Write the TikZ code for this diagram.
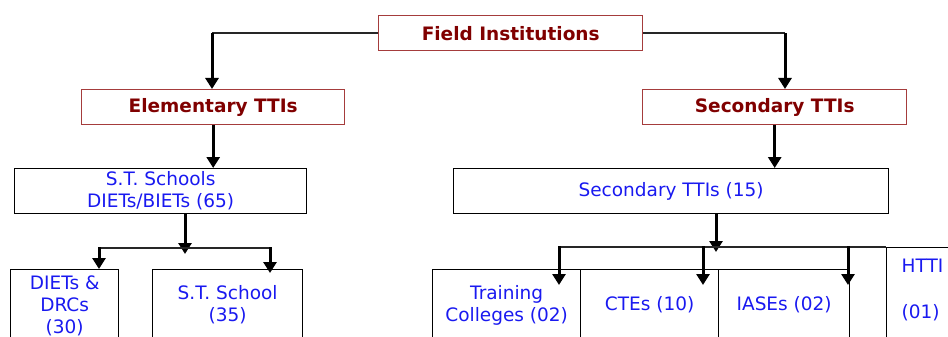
\documentclass[tikz,border=0pt]{standalone}
\usepackage{fontspec}
\setmainfont{DejaVu Sans}
\usepackage{xcolor}
\usetikzlibrary{arrows.meta}
\definecolor{darkred}{RGB}{128,0,0}
\definecolor{boxred}{RGB}{165,60,60}
\definecolor{textblue}{RGB}{25,25,240}
\tikzset{
	headbox/.style={draw=boxred, line width=1.4pt, text=darkred, font=\bfseries\fontsize{18.5}{20}\selectfont, inner sep=0pt, anchor=north west},
	unitbox/.style={draw=black, line width=1.3pt, text=textblue, font=\fontsize{18.5}{22}\selectfont, align=center, inner sep=0pt, anchor=north west},
	feed/.style={line width=3pt, -{Triangle[length=11pt,width=13pt]}},
	rail/.style={line width=1.5pt, color=black!85},
}

\begin{document}
\begin{tikzpicture}[x=1pt,y=-1pt]
		\useasboundingbox (0,0) rectangle (948,337);
		\clip (0,0) rectangle (948,337);
		% top levels
		\node[headbox, minimum width=264pt, minimum height=35pt] (field) at (378,15) {Field Institutions};
		\node[headbox, minimum width=263pt, minimum height=35pt] (elem) at (81,89) {Elementary TTIs};
		\node[headbox, minimum width=264pt, minimum height=35pt] (sec) at (642,89) {Secondary TTIs};
		\node[unitbox, minimum width=292pt, minimum height=45pt] (sts) at (14,168) {S.T. Schools\\DIETs/BIETs (65)};
		\node[unitbox, minimum width=435pt, minimum height=45pt] (secf) at (453,168) {Secondary TTIs (15)};
		% bottom boxes, cut by the lower edge
		\node[unitbox, minimum width=108pt, minimum height=72pt] (diet) at (10,269) {DIETs \&\\DRCs\\(30)};
		\node[unitbox, minimum width=150pt, minimum height=70pt] (stsc) at (152,269) {S.T. School\\(35)};
		\node[unitbox, minimum width=148pt, minimum height=72pt] (trc) at (432,269) {Training\\Colleges (02)};
		\node[unitbox, minimum width=138pt, minimum height=70pt] (cte) at (580,269) {CTEs (10)};
		\node[unitbox, minimum width=131pt, minimum height=70pt] (iase) at (718,269) {IASEs (02)};
		\node[unitbox, align=left, text width=50pt, inner xsep=15pt, inner ysep=12pt, text height=13pt, text depth=90pt] (htti) at (886,247) {HTTI\\[24pt](01)};

		\coordinate (jl) at (212,31);
		\coordinate (jr) at (785,31);
		\draw[rail] (field.west) -- (field.west -| jl);
		\draw[rail] (field.east) -- (field.east -| jr);
		\draw[feed] (field.west -| jl) -- (jl |- elem.north);
		\draw[feed] (field.east -| jr) -- (jr |- sec.north);
		\draw[feed] (elem.south) -- (elem.south |- sts.north);
		\draw[feed] (sec.south) -- (sec.south |- secf.north);

		% elementary branch
		\coordinate (el) at (99,248);
		\coordinate (er) at (270,248);
		\draw[feed] (185,213) coordinate (es) -- (185,254);
		\draw[rail] (el) -- (er);
		\draw[feed] ([yshift=1pt]el) -- (el |- diet.north);
		\draw[feed] ([yshift=1pt]er) -- (270,273);

		% secondary branch
		\coordinate (sl) at (559,247);
		\coordinate (sm) at (703,247);
		\coordinate (sr) at (848,247);
		\draw[feed] (716,213) coordinate (ss) -- (716,252);
		\draw[rail] (sl) -- (sr) -- (sr -| htti.west);
		\foreach \c in {sl,sm,sr}
			\draw[feed] ([yshift=1pt]\c) -- ++(0,39);
	\end{tikzpicture}
\end{document}
